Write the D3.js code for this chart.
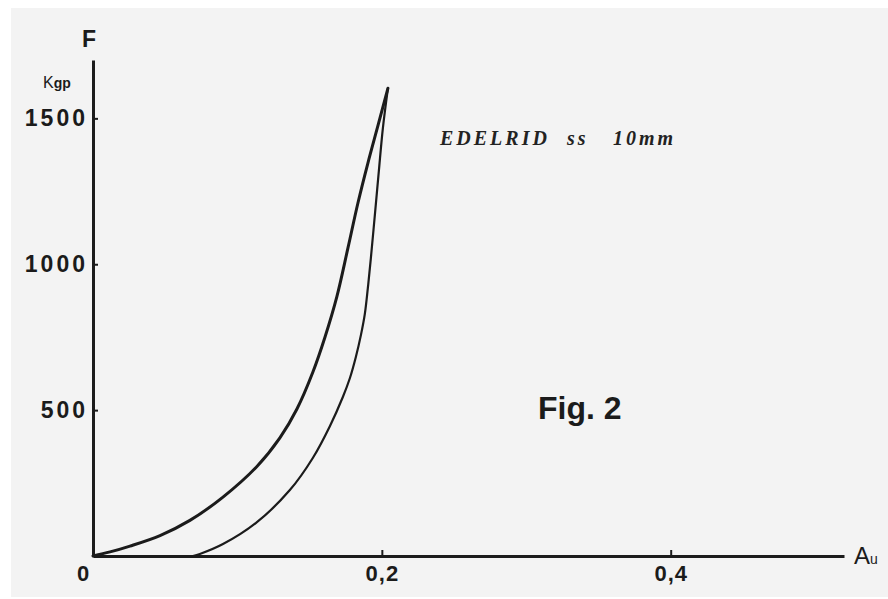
<!DOCTYPE html>
<html lang="it">
<head>
	<meta charset="UTF-8">
	<title>EDELRID ss 10mm - Fig. 2</title>
	<script src="https://d3js.org/d3.v7.min.js"></script>
	<style type="text/css">
		body { margin: 0; background: #ffffff; }
		svg { display: block; }
		.curve { fill: none; stroke: #1b1b1b; stroke-linejoin: round; stroke-linecap: round; }
		.axis path, .axis line { stroke: #1b1b1b; }
		.axis text { fill: #1b1b1b; font-family: "Liberation Sans", Arial, sans-serif; font-weight: bold; }
		.lbl { fill: #1b1b1b; font-family: "Liberation Sans", Arial, sans-serif; font-weight: bold; }
	</style>
</head>
<body>
<script type="text/javascript">

	// elongation (Au) and force (kgp)
	var loadA   = [0, 0.0118, 0.0256, 0.0464, 0.0671, 0.0900, 0.1135, 0.1294, 0.1412, 0.1522, 0.1606, 0.1689, 0.1765, 0.1834, 0.1903, 0.1972, 0.2042];
	var loadF   = [0, 14, 34, 70, 122, 202, 307, 405, 504, 630, 750, 890, 1055, 1209, 1346, 1473, 1603];
	var unloadA = [0.0692, 0.0740, 0.0900, 0.1135, 0.1363, 0.1522, 0.1640, 0.1730, 0.1779, 0.1820, 0.1855, 0.1882, 0.1903, 0.1924, 0.1952, 0.1979, 0.2007, 0.2042];
	var unloadF = [0, 7, 41, 116, 226, 336, 445, 545, 610, 682, 757, 829, 918, 1021, 1171, 1318, 1466, 1603];

	var yTicks = [500, 1000, 1500];
	var xTicks = [0, 0.2, 0.4];
	var titleWords = ['EDELRID', 'ss', '10mm'];
	var figLabel = 'Fig. 2';

	window.onload = function () {

		var W = 888, H = 599;

		var svg = d3.select('body').append('svg')
			.attr('width', W)
			.attr('height', H);

		// paper of the scan
		svg.append('rect')
			.attr('x', 11).attr('y', 8)
			.attr('width', W - 11).attr('height', H - 10)
			.style('fill', '#f3f3f3');

		var x = d3.scaleLinear()
			.domain([0, 0.52])
			.range([93, 844]);

		var y = d3.scaleLinear()
			.domain([0, 1700])
			.range([556, 60]);

		//draw axis
		var yAxis = svg.append('g')
			.attr('class', 'axis')
			.attr('transform', 'translate(' + x(0) + ',0)')
			.call(d3.axisLeft(y)
				.tickValues(yTicks)
				.tickSizeInner(-5)
				.tickSizeOuter(0)
				.tickPadding(5)
				.tickFormat(d3.format('d')));
		yAxis.select('.domain').style('stroke-width', 3);
		yAxis.selectAll('.tick line').style('stroke-width', 2);
		yAxis.selectAll('.tick text')
			.style('font-size', '23px')
			.style('letter-spacing', '3px');

		var xAxis = svg.append('g')
			.attr('class', 'axis')
			.attr('transform', 'translate(0,' + y(0) + ')')
			.call(d3.axisBottom(x)
				.tickValues(xTicks)
				.tickSizeInner(-6)
				.tickSizeOuter(0)
				.tickPadding(9)
				.tickFormat(function (d) { return d === 0 ? '0' : String(d).replace('.', ','); }));
		xAxis.select('.domain').style('stroke-width', 3);
		xAxis.selectAll('.tick line').style('stroke-width', 2);
		xAxis.selectAll('.tick text')
			.style('font-size', '22px')
			.style('letter-spacing', '1px');
		// origin label sits left of the corner
		xAxis.selectAll('.tick text').filter(function (d) { return d === 0; })
			.attr('x', -10);
		xAxis.selectAll('.tick line').filter(function (d) { return d === 0; }).remove();

		//curves
		var line = d3.line()
			.x(function (d) { return x(d[0]); })
			.y(function (d) { return y(d[1]); })
			.curve(d3.curveCatmullRom.alpha(0.5));

		var loading = loadA.map(function (a, i) { return [a, loadF[i]]; });
		var unloading = unloadA.map(function (a, i) { return [a, unloadF[i]]; });

		svg.append('path')
			.datum(loading)
			.attr('class', 'curve')
			.attr('d', line)
			.style('stroke-width', 3);

		svg.append('path')
			.datum(unloading)
			.attr('class', 'curve')
			.attr('d', line)
			.style('stroke-width', 2.2);

		//labelling
		svg.append('text')
			.attr('class', 'lbl')
			.attr('x', 89).attr('y', 47)
			.style('text-anchor', 'middle')
			.style('font-size', '23px')
			.text('F');

		var kgp = svg.append('text')
			.attr('class', 'lbl')
			.attr('x', 43).attr('y', 88)
			.style('font-weight', 'normal')
			.style('font-size', '16px');
		kgp.append('tspan').text('K');
		kgp.append('tspan').style('font-size', '14px').style('font-weight', 'bold').text('gp');

		var au = svg.append('text')
			.attr('class', 'lbl')
			.attr('x', 854).attr('y', 564);
		au.append('tspan').style('font-size', '24px').style('font-weight', 'normal').text('A');
		au.append('tspan').style('font-size', '14px').style('font-weight', 'normal').text('u');

		var wordX = [440, 567, 613];
		svg.append('text')
			.attr('y', 145)
			.style('font-family', '"Liberation Serif", "DejaVu Serif", serif')
			.style('font-style', 'italic')
			.style('font-weight', 'bold')
			.style('font-size', '20px')
			.style('letter-spacing', '3px')
			.style('fill', '#222')
			.selectAll('tspan')
			.data(titleWords)
			.enter().append('tspan')
			.attr('x', function (d, i) { return wordX[i]; })
			.text(function (d) { return d; });

		svg.append('text')
			.attr('class', 'lbl')
			.attr('x', 538).attr('y', 419)
			.style('font-size', '32px')
			.text(figLabel);
	};

</script>
</body>
</html>
